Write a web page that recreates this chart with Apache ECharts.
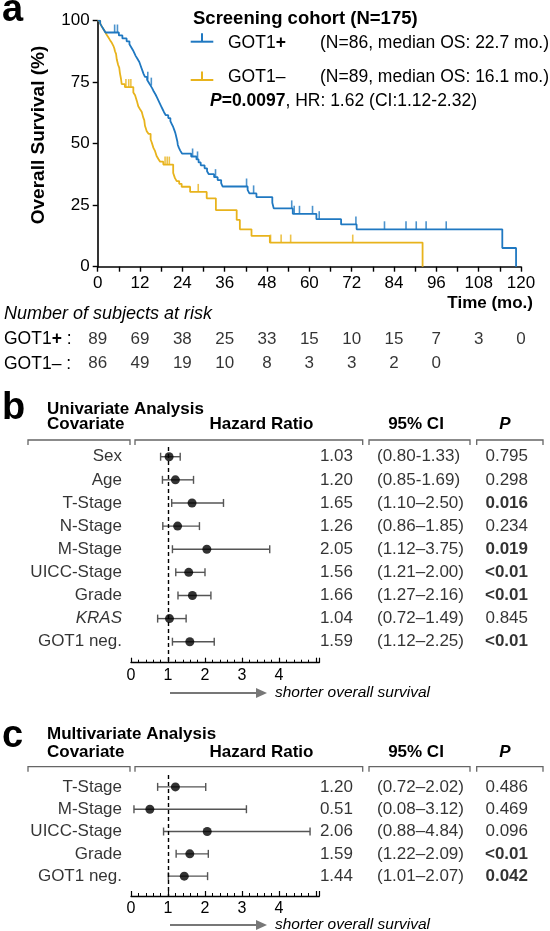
<!DOCTYPE html>
<html><head><meta charset="utf-8">
<script src="https://cdn.jsdelivr.net/npm/echarts/dist/echarts.min.js"></script>
<style>html,body{margin:0;padding:0;background:#fff}#c{width:550px;height:931px}</style>
</head><body><div id="c"></div><script>
// ---------- DATA ----------
const posTime = [0,0.7,1.2,1.7,2.2,6.0,7.0,8.2,9.0,9.5,10.0,10.4,10.8,11.3,11.8,12.1,12.4,12.7,13.0,13.4,14.0,14.5,15.0,15.5,15.9,16.4,16.8,17.2,17.6,18.0,18.4,18.8,19.3,20.0,20.6,21.0,21.4,21.7,22.0,22.2,22.4,22.6,22.7,23.0,23.4,23.9,26.5,28.0,28.6,29.2,30.3,31.0,31.5,33.0,34.0,35.0,35.4,42.5,43.0,45.0,49.5,49.9,55.3,62.0,69.0,73.4,114.7,118.6];
const posSurv = [100,98.8,97.6,96.4,95.2,94.0,92.8,91.6,90.4,89.2,88.0,86.8,85.6,84.4,83.2,82.0,80.8,79.6,78.4,77.2,76.0,74.8,73.6,72.4,71.2,70.0,68.8,67.6,66.4,65.2,64.0,62.8,61.6,60.4,59.2,58.0,56.8,55.6,54.4,53.2,52.0,50.8,49.6,48.4,47.2,46.0,44.8,43.6,42.4,41.2,40.0,38.8,37.6,36.4,35.2,34.0,32.6,31.2,29.8,28.3,26.0,23.7,21.5,19.3,17.2,15.2,7.6,0];
const negTime = [0,0.7,1.1,1.6,2.1,2.5,3.0,3.5,4.0,4.4,4.7,4.9,5.2,5.4,5.8,6.1,6.3,6.6,6.8,7.7,10.1,10.6,11.1,11.5,12.0,12.5,12.9,13.2,13.4,13.9,14.4,15.0,15.3,15.8,16.2,16.7,17.2,17.7,18.6,21.4,21.9,22.4,23.1,23.8,26.2,30.9,33.5,39.4,40.3,43.6,48.8,92.1];
const negSurv = [100,98.9,97.8,96.6,95.5,94.4,93.3,92.1,91.0,89.9,88.8,87.6,86.5,84.3,82.0,80.9,78.7,76.4,74.2,73.0,70.8,69.7,67.4,65.2,64.0,62.9,60.7,59.6,57.3,55.1,54.0,51.7,50.6,48.3,47.2,45.0,43.8,42.7,41.5,38.1,36.0,34.8,33.7,32.5,30.4,27.8,23.0,19.0,15.2,12.5,9.8,0];
const posCensor = [4.8,5.6,14.2,15.2,26.9,28.3,33.4,42.2,44.2,55.0,55.7,57.2,60.9,62.8,73.2,81.3,87.4,90.3,93.1,98.8];
const negCensor = [8.0,8.8,9.4,19.1,19.7,20.3,28.5,49.0,52.0,54.7,72.3];

const riskTimes = [0,12,24,36,48,60,72,84,96,108,120];
const riskPos = [89,69,38,25,33,15,10,15,7,3,0];
const riskNeg = [86,49,19,10,8,3,3,2,0];

const uniCov = ['Sex','Age','T-Stage','N-Stage','M-Stage','UICC-Stage','Grade','KRAS','GOT1 neg.'];
const uniHR = [1.03,1.20,1.65,1.26,2.05,1.56,1.66,1.04,1.59];
const uniLo = [0.80,0.85,1.10,0.86,1.12,1.21,1.27,0.72,1.12];
const uniHi = [1.33,1.69,2.50,1.85,3.75,2.00,2.16,1.49,2.25];
const uniCI = ['(0.80-1.33)','(0.85-1.69)','(1.10–2.50)','(0.86–1.85)','(1.12–3.75)','(1.21–2.00)','(1.27–2.16)','(0.72–1.49)','(1.12–2.25)'];
const uniP = ['0.795','0.298','0.016','0.234','0.019','<0.01','<0.01','0.845','<0.01'];
const uniBold = [0,0,1,0,1,1,1,0,1];

const multiCov = ['T-Stage','M-Stage','UICC-Stage','Grade','GOT1 neg.'];
const multiHR = [1.20,0.51,2.06,1.59,1.44];
const multiLo = [0.72,0.08,0.88,1.22,1.01];
const multiHi = [2.02,3.12,4.84,2.09,2.07];
const multiCI = ['(0.72–2.02)','(0.08–3.12)','(0.88–4.84)','(1.22–2.09)','(1.01–2.07)'];
const multiP = ['0.486','0.469','0.096','<0.01','0.042'];
const multiBold = [0,0,0,1,1];

// ---------- STYLE / LAYOUT ----------
const FF = '"Liberation Sans", Arial, Helvetica, sans-serif';
const BLUE = '#1f78c1', GOLD = '#e8b31c';
const KM = {left: 97.7, top: 20.7, width: 423.3, height: 246};
const RISK = {left: 97.7, top: 327, width: 423.3, height: 49};
const FB = {left: 131, top: 447, width: 188.3, height: 215.7, ymin: -0.42, ymax: 8.907};
const FC = {left: 131, top: 775, width: 188.3, height: 121, ymin: -0.533, ymax: 4.889};
const COL = {cov: 122, hr: 353, ci: 377, p: 528};

function survAt(times, survs, t) {
  let s = survs[0];
  for (let i = 0; i < times.length; i++) if (times[i] <= t) s = survs[i];
  return s;
}

const chart = echarts.init(document.getElementById('c'));

function errRender(params, api) {
  const y = api.value(1);
  const a = api.coord([api.value(2), y]);
  const b = api.coord([api.value(3), y]);
  const h = 4;
  const st = {stroke: '#555', lineWidth: 1.4};
  return {type: 'group', children: [
    {type: 'line', shape: {x1: a[0], y1: a[1], x2: b[0], y2: b[1]}, style: st},
    {type: 'line', shape: {x1: a[0], y1: a[1] - h, x2: a[0], y2: a[1] + h}, style: st},
    {type: 'line', shape: {x1: b[0], y1: b[1] - h, x2: b[0], y2: b[1] + h}, style: st}
  ]};
}

function forestAxisX(grid) {
  return {
    type: 'value', gridIndex: grid, min: 0, max: 5.09, interval: 1,
    axisLine: {onZero: false, lineStyle: {color: '#000', width: 1.3}},
    axisTick: {inside: true, length: 5, lineStyle: {color: '#000', width: 1.2}},
    minorTick: {show: true, splitNumber: 5, length: 3, lineStyle: {color: '#000', width: 1}},
    splitLine: {show: false}, minorSplitLine: {show: false},
    axisLabel: {fontSize: 16, color: '#000', fontFamily: FF, margin: 5,
      formatter: v => (v <= 4 && Math.abs(v - Math.round(v)) < 1e-6) ? String(v) : ''}
  };
}
function hiddenX(grid, max) {
  return {type: 'value', gridIndex: grid, min: 0, max: max, show: false};
}
function hiddenY(grid, mn, mx) {
  return {type: 'value', gridIndex: grid, min: mn, max: mx, inverse: true, show: false};
}
const txt = {fontSize: 17, color: '#000', fontFamily: FF};

function tableSeries(grid, cov, hr, ci, p, bold) {
  const base = {type: 'scatter', xAxisIndex: grid, yAxisIndex: grid, symbolSize: 0, silent: true, z: 5};
  return [
    Object.assign({}, base, {
      data: cov.map((c, i) => ({value: [COL.cov, i], name: c,
        label: c === 'KRAS' ? {fontStyle: 'italic'} : {}})),
      label: Object.assign({show: true, position: 'left', distance: 0, formatter: '{b}'}, txt)
    }),
    Object.assign({}, base, {
      data: hr.map((h, i) => ({value: [COL.hr, i], name: h.toFixed(2)})),
      label: Object.assign({show: true, position: 'left', distance: 0, formatter: '{b}'}, txt)
    }),
    Object.assign({}, base, {
      data: ci.map((c, i) => ({value: [COL.ci, i], name: c})),
      label: Object.assign({show: true, position: 'right', distance: 0, formatter: '{b}'}, txt)
    }),
    Object.assign({}, base, {
      data: p.map((v, i) => ({value: [COL.p, i], name: v,
        label: bold[i] ? {fontWeight: 'bold'} : {}})),
      label: Object.assign({show: true, position: 'left', distance: 0, formatter: '{b}'}, txt)
    })
  ];
}
function forestSeries(grid, hr, lo, hi) {
  return [
    {type: 'custom', xAxisIndex: grid, yAxisIndex: grid, renderItem: errRender, clip: false,
     encode: {x: [0, 2, 3], y: 1}, data: hr.map((h, i) => [h, i, lo[i], hi[i]]), z: 3},
    {type: 'scatter', xAxisIndex: grid, yAxisIndex: grid, symbol: 'circle', symbolSize: 9,
     itemStyle: {color: '#000'}, z: 4, data: hr.map((h, i) => [h, i]),
     markLine: {silent: true, symbol: ['none', 'none'], label: {show: false},
       lineStyle: {type: [4, 3], color: '#000', width: 1.4}, data: [{xAxis: 1}]}}
  ];
}

// ---------- GRAPHIC ANNOTATIONS ----------
function T(x, y, text, o) {
  return {type: 'text', x: x, y: y, silent: true, z: 10,
    style: Object.assign({text: text, fontFamily: FF, fontSize: 17, fill: '#000',
      align: 'left', verticalAlign: 'middle'}, o || {})};
}
function bracket(x1, x2, y) {
  return {type: 'polyline', silent: true, shape: {points: [[x1, y + 5], [x1, y], [x2, y], [x2, y + 5]]},
    style: {stroke: '#666', lineWidth: 1.3, fill: null}};
}
function headers(y1, y2, yb, title) {
  return [
    T(47, y1, title, {fontWeight: 'bold'}),
    T(47, y2, 'Covariate', {fontWeight: 'bold'}),
    T(261.5, y2, 'Hazard Ratio', {fontWeight: 'bold', align: 'center'}),
    T(416, y2, '95% CI', {fontWeight: 'bold', align: 'center'}),
    T(505, y2, 'P', {fontWeight: 'bold', fontStyle: 'italic', align: 'center'}),
    bracket(28, 130, yb), bracket(135, 362.7, yb), bracket(369, 470, yb), bracket(476.7, 543, yb)
  ];
}
function arrow(y) {
  return [
    {type: 'line', silent: true, shape: {x1: 170, y1: y, x2: 258, y2: y}, style: {stroke: '#777', lineWidth: 2}},
    {type: 'polygon', silent: true, shape: {points: [[256, y - 5], [267, y], [256, y + 5]]}, style: {fill: '#777'}},
    T(275, y, 'shorter overall survival', {fontStyle: 'italic', fontSize: 15.5})
  ];
}
function legendIcon(y, color) {
  return [
    {type: 'line', silent: true, shape: {x1: 190.7, y1: y, x2: 213.3, y2: y}, style: {stroke: color, lineWidth: 2}},
    {type: 'line', silent: true, shape: {x1: 202, y1: y - 8.5, x2: 202, y2: y}, style: {stroke: color, lineWidth: 2}}
  ];
}
const richBase = {
  r: {fontFamily: FF, fontSize: 17.5, color: '#000'},
  b: {fontFamily: FF, fontSize: 17.5, color: '#000', fontWeight: 'bold'},
  pi: {fontFamily: FF, fontSize: 17.5, color: '#000', fontWeight: 'bold', fontStyle: 'italic'}
};

const graphics = [].concat(
  [T(2, 11, 'a', {fontWeight: 'bold', fontSize: 38}),
   T(2, 408.5, 'b', {fontWeight: 'bold', fontSize: 38}),
   T(2, 737, 'c', {fontWeight: 'bold', fontSize: 38}),
   {type: 'text', x: 39, y: 135, rotation: Math.PI / 2, silent: true,
    style: {text: 'Overall Survival (%)', fontFamily: FF, fontSize: 19, fontWeight: 'bold', fill: '#000', align: 'center', verticalAlign: 'middle'}},
   T(533, 303, 'Time (mo.)', {fontWeight: 'bold', align: 'right'}),
   T(4, 314, 'Number of subjects at risk', {fontStyle: 'italic', fontSize: 18}),
   T(193, 18.5, 'Screening cohort (N=175)', {fontWeight: 'bold', fontSize: 18.5}),
   T(228, 43, '{r|GOT1}{b|+}', {rich: richBase}),
   T(320, 43, '(N=86, median OS: 22.7 mo.)', {fontSize: 17.5}),
   T(228, 77, '{r|GOT1–}', {rich: richBase}),
   T(320, 77, '(N=89, median OS: 16.1 mo.)', {fontSize: 17.5}),
   T(210, 101, '{pi|P}{b|=0.0097}{r|, HR: 1.62 (CI:1.12-2.32)}', {rich: richBase})
  ],
  legendIcon(41.7, BLUE), legendIcon(80, GOLD),
  headers(409, 424, 440, 'Univariate Analysis'),
  headers(734, 752, 766.7, 'Multivariate Analysis'),
  arrow(693), arrow(925)
);

const option = {
  animation: false,
  backgroundColor: '#fff',
  textStyle: {fontFamily: FF},
  grid: [
    {left: KM.left, top: KM.top, width: KM.width, height: KM.height},
    {left: RISK.left, top: RISK.top, width: RISK.width, height: RISK.height},
    {left: FB.left, top: FB.top, width: FB.width, height: FB.height},
    {left: 0, top: FB.top, width: 550, height: FB.height},
    {left: FC.left, top: FC.top, width: FC.width, height: FC.height},
    {left: 0, top: FC.top, width: 550, height: FC.height}
  ],
  xAxis: [
    {type: 'value', gridIndex: 0, min: 0, max: 120, interval: 6,
     axisLine: {onZero: false, lineStyle: {color: '#000', width: 1.6}},
     axisTick: {length: 5, lineStyle: {color: '#000', width: 1.4}},
     splitLine: {show: false},
     axisLabel: {fontSize: 17, color: '#000', fontFamily: FF, margin: 8,
       formatter: v => (v % 12 === 0 ? String(v) : '')}},
    hiddenX(1, 120),
    forestAxisX(2), hiddenX(3, 550),
    forestAxisX(4), hiddenX(5, 550)
  ],
  yAxis: [
    {type: 'value', gridIndex: 0, min: 0, max: 100, interval: 25,
     axisLine: {show: true, lineStyle: {color: '#000', width: 1.6}},
     axisTick: {show: true, length: 5, lineStyle: {color: '#000', width: 1.4}},
     splitLine: {show: false},
     axisLabel: {fontSize: 17, color: '#000', fontFamily: FF, margin: 8}},
    {type: 'category', gridIndex: 1, data: ['pos', 'neg'], inverse: true,
     axisLine: {show: false}, axisTick: {show: false},
     axisLabel: {align: 'left', margin: RISK.left - 4,
       formatter: v => v === 'pos' ? '{r|GOT1}{b|+}{r| :}' : '{r|GOT1– :}',
       rich: richBase}},
    hiddenY(2, FB.ymin, FB.ymax), hiddenY(3, FB.ymin, FB.ymax),
    hiddenY(4, FC.ymin, FC.ymax), hiddenY(5, FC.ymin, FC.ymax)
  ],
  series: [].concat(
    [
      {type: 'line', xAxisIndex: 0, yAxisIndex: 0, step: 'end', showSymbol: false, z: 2,
       lineStyle: {color: GOLD, width: 1.8}, data: negTime.map((t, i) => [t, negSurv[i]])},
      {type: 'line', xAxisIndex: 0, yAxisIndex: 0, step: 'end', showSymbol: false, z: 3,
       lineStyle: {color: BLUE, width: 1.8}, data: posTime.map((t, i) => [t, posSurv[i]])},
      {type: 'scatter', xAxisIndex: 0, yAxisIndex: 0, symbol: 'rect', symbolSize: [1.6, 8], symbolOffset: [0, -4],
       itemStyle: {color: GOLD}, z: 2, data: negCensor.map(t => [t, survAt(negTime, negSurv, t)])},
      {type: 'scatter', xAxisIndex: 0, yAxisIndex: 0, symbol: 'rect', symbolSize: [1.6, 8], symbolOffset: [0, -4],
       itemStyle: {color: BLUE}, z: 3, data: posCensor.map(t => [t, survAt(posTime, posSurv, t)])},
      {type: 'scatter', xAxisIndex: 1, yAxisIndex: 1, symbolSize: 0, silent: true,
       data: riskPos.map((n, i) => [riskTimes[i], 'pos', n]),
       label: Object.assign({show: true, position: 'inside', formatter: p => String(p.value[2])}, txt)},
      {type: 'scatter', xAxisIndex: 1, yAxisIndex: 1, symbolSize: 0, silent: true,
       data: riskNeg.map((n, i) => [riskTimes[i], 'neg', n]),
       label: Object.assign({show: true, position: 'inside', formatter: p => String(p.value[2])}, txt)}
    ],
    forestSeries(2, uniHR, uniLo, uniHi),
    tableSeries(3, uniCov, uniHR, uniCI, uniP, uniBold),
    forestSeries(4, multiHR, multiLo, multiHi),
    tableSeries(5, multiCov, multiHR, multiCI, multiP, multiBold)
  ),
  graphic: graphics
};
chart.setOption(option);
</script></body></html>
